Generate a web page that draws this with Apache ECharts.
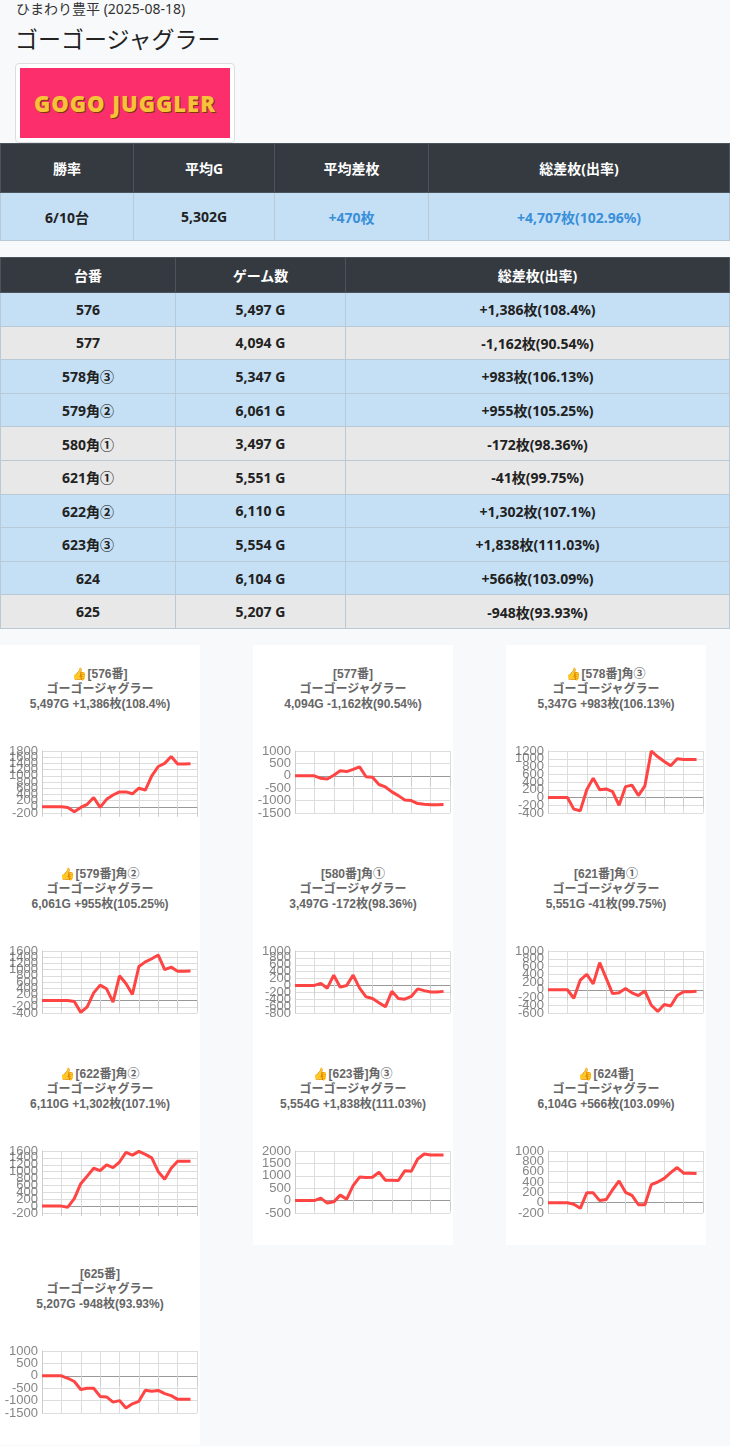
<!DOCTYPE html>
<html><head><meta charset="utf-8">
<script src="https://cdn.jsdelivr.net/npm/echarts@6/dist/echarts.min.js"></script>
<style>
body{margin:0;background:#f8f9fa;font-family:"Noto Sans","Noto Sans CJK JP",sans-serif;width:730px;}
.sub{position:absolute;left:16px;top:-2px;font-size:14px;color:#333;}
.ttl{position:absolute;left:15px;top:21px;font-size:23px;color:#222;}
.img{position:absolute;left:15px;top:63px;width:218px;height:78px;border:1px solid #ddd;border-radius:4px;background:#fff;}
.img div{position:absolute;left:4px;top:4px;width:210px;height:70px;background:#fd2e6c;color:#f5c23a;font-weight:900;text-align:center;font-size:22px;line-height:70px;letter-spacing:1px;text-shadow:1px 1px 0 #7a3b00;white-space:nowrap;overflow:hidden;}
table{position:absolute;left:0;width:730px;border-collapse:collapse;font-weight:bold;font-size:14px;color:#222;table-layout:fixed;}
th{background:#343a40;color:#fff;border:1px solid #4b545c;font-size:14px;}
td{border:1px solid #b9c9d6;text-align:center;}
.pos td{background:#c5e0f5;}
.neg td{background:#e8e8e8;}
.blue{color:#3a8fd9;}
.card{position:absolute;width:200px;height:200px;background:#fff;}
.ct{position:absolute;left:0;top:22px;width:200px;text-align:center;font-size:12px;font-weight:bold;color:#666;line-height:15px;font-family:"Liberation Sans","Noto Sans CJK JP",sans-serif;}
.ch{position:absolute;left:0;top:90px;width:200px;height:110px;}
</style></head><body>
<div class="sub">ひまわり豊平 (2025-08-18)</div>
<div class="ttl">ゴーゴージャグラー</div>
<div class="img"><div>GOGO JUGGLER</div></div>
<table id="t1" style="top:143px"></table>
<table id="t2" style="top:257px"></table>
<div id="cards"></div>
<script>
const machines=['576','577','578角③','579角②','580角①','621角①','622角②','623角③','624','625'];
const games=[5497,4094,5347,6061,3497,5551,6110,5554,6104,5207];
const diffs=[1386,-1162,983,955,-172,-41,1302,1838,566,-948];
const rates=['108.4','90.54','106.13','105.25','98.36','99.75','107.1','111.03','103.09','93.93'];
const yMin=[-200,-1500,-400,-400,-800,-600,-200,-500,-200,-1500];
const yMax=[1800,1000,1200,1600,1000,1000,1600,2000,1000,1000];
const yStep=[200,500,200,200,200,200,200,500,200,500];
const s576=[0,0,0,0,-20,-160,-20,80,300,-20,240,380,480,480,420,600,540,1000,1300,1400,1620,1380,1380,1386];
const s577=[0,0,0,0,-100,-130,20,200,170,260,360,-40,-60,-350,-450,-650,-800,-980,-1000,-1120,-1150,-1170,-1170,-1162];
const s578=[0,0,0,0,-300,-340,200,500,200,220,150,-200,280,320,50,300,1200,1050,930,820,1000,980,980,983];
const s579=[0,0,0,0,0,-30,-380,-200,250,500,380,-50,800,550,200,1100,1250,1350,1470,1000,1080,950,950,955];
const s580=[0,0,0,0,60,-80,300,-50,0,300,-80,-330,-380,-500,-620,-170,-380,-400,-320,-100,-150,-190,-190,-172];
const s621=[0,0,0,0,-220,250,400,150,700,300,-100,-80,30,-80,-150,-30,-400,-560,-380,-420,-150,-50,-50,-41];
const s622=[0,0,0,0,-30,220,650,870,1100,1030,1200,1120,1280,1560,1480,1590,1500,1400,1000,780,1100,1300,1300,1302];
const s623=[0,0,0,0,100,-100,-50,220,60,600,950,930,940,1150,820,820,810,1200,1180,1680,1880,1840,1840,1838];
const s624=[0,0,0,0,-30,-110,190,190,40,60,250,420,200,140,-40,-40,350,400,470,580,680,570,570,566];
const s625=[0,0,0,0,-100,-230,-550,-500,-500,-830,-850,-1060,-1000,-1300,-1130,-1030,-580,-620,-590,-720,-800,-950,-950,-948];
const series=[s576,s577,s578,s579,s580,s621,s622,s623,s624,s625];
const liked=[true,false,true,true,false,false,true,true,true,false];

const fmt=n=>n.toLocaleString('en-US');
const sg=n=>(n>0?'+':'')+fmt(n);
document.getElementById('t1').innerHTML='<colgroup><col style="width:133px"><col style="width:141px"><col style="width:154px"><col></colgroup><tr style="height:49px"><th>勝率</th><th>平均G</th><th>平均差枚</th><th>総差枚(出率)</th></tr>'+
'<tr class="pos" style="height:48px"><td>6/10台</td><td>5,302G</td><td class="blue">+470枚</td><td class="blue">+4,707枚(102.96%)</td></tr>';
let h='<colgroup><col style="width:175px"><col style="width:170px"><col></colgroup><tr style="height:35px"><th>台番</th><th>ゲーム数</th><th>総差枚(出率)</th></tr>';
machines.forEach((m,i)=>{h+=`<tr class="${diffs[i]>0?'pos':'neg'}" style="height:33.6px"><td>${m}</td><td>${fmt(games[i])} G</td><td>${sg(diffs[i])}枚(${rates[i]}%)</td></tr>`;});
document.getElementById('t2').innerHTML=h;

const cards=document.getElementById('cards');
const xs=[0,253,506];
machines.forEach((m,i)=>{
  const c=document.createElement('div');c.className='card';
  c.style.left=xs[i%3]+'px';c.style.top=(645+Math.floor(i/3)*200)+'px';
  const num=m.slice(0,3),rest=m.slice(3);
  c.innerHTML=`<div class="ct">${liked[i]?'👍':''}[${num}番]${rest}<br>ゴーゴージャグラー<br>${fmt(games[i])}G ${sg(diffs[i])}枚(${rates[i]}%)</div><div class="ch" id="c${i}"></div>`;
  cards.appendChild(c);
  const ch=echarts.init(document.getElementById('c'+i));
  const cats=series[i].map((v,k)=>k).concat([24]);
  const ticks=[];for(let v=yMin[i];v<=yMax[i];v+=yStep[i])ticks.push(v);
  const cols=ticks.map(v=>v===0?'#999':'#ddd');
  ch.setOption({animation:false,
    grid:{left:42,right:3,top:16,bottom:32},
    xAxis:{type:'category',data:cats,boundaryGap:false,axisLabel:{show:false},
      axisLine:{show:false},axisTick:{show:true,length:10,lineStyle:{color:'#ccc'}},
      splitLine:{show:true,lineStyle:{color:'#ddd'}}},
    yAxis:{type:'value',min:yMin[i],max:yMax[i],interval:yStep[i],
      axisLine:{show:true,lineStyle:{color:'#ccc'}},axisLabel:{show:false},
      splitLine:{lineStyle:{color:cols}}},
    series:[
      {type:'scatter',data:ticks.map(v=>[0,v]),symbolSize:0,silent:true,
        label:{show:true,position:'left',distance:4,color:'#666',fontSize:13,fontFamily:'Liberation Sans',formatter:p=>String(p.value[1])},
        labelLayout:{hideOverlap:false}},
      {type:'line',data:series[i],symbol:'none',lineStyle:{color:'#ff4444',width:3}}]
  });
});
</script></body></html>
